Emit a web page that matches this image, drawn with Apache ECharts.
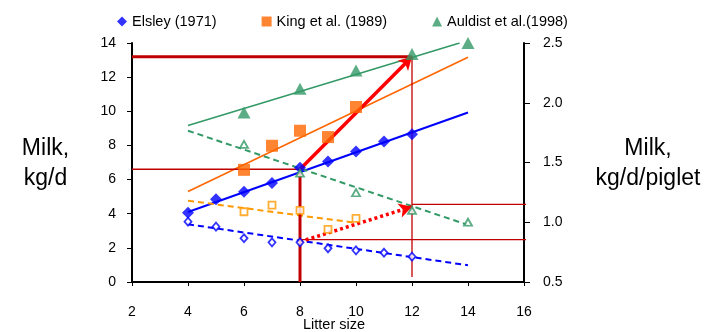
<!DOCTYPE html>
<html>
<head>
<meta charset="utf-8">
<script src="https://cdn.jsdelivr.net/npm/echarts@6/dist/echarts.min.js"></script>
<style>html,body{margin:0;padding:0;background:#fff}#c{width:718px;height:332px}</style>
</head>
<body>
<div id="c"></div>
<script>
// ---- data ----
var xTicks = [2, 4, 6, 8, 10, 12, 14, 16];
var leftTicks = [0, 2, 4, 6, 8, 10, 12, 14];
var rightTicks = ['0.5', '1.0', '1.5', '2.0', '2.5'];

// Milk, kg/d (left axis)
var elsleyX = [4, 5, 6, 7, 8, 9, 10, 11, 12];
var elsleyMilk = [4.05, 4.85, 5.28, 5.8, 6.69, 7.06, 7.64, 8.23, 8.66];
var kingX = [6, 7, 8, 9, 10];
var kingMilk = [6.57, 7.98, 8.86, 8.49, 10.25];
var auldistX = [6, 8, 10, 12, 14];
var auldistMilk = [9.93, 11.32, 12.39, 13.36, 14.0];

// Milk, kg/d/piglet (right axis)
var elsleyPiglet = [1.005, 0.963, 0.866, 0.832, 0.832, 0.782, 0.765, 0.745, 0.712];
var kingPiglet = [1.088, 1.144, 1.10, 0.94, 1.033];
var auldistPiglet = [1.652, 1.41, 1.247, 1.10, 1.0];

// trend lines [x, y]
var elsleyFit = [[4, 4.1], [14, 9.93]];
var kingFit = [[4, 5.3], [14, 13.16]];
var auldistFit = [[4, 9.17], [13.7, 14.0]];
var elsleyPigletFit = [[4, 0.983], [14, 0.64]];
var kingPigletFit = [[4, 1.18], [10, 0.995]];
var auldistPigletFit = [[4, 1.766], [14, 0.977]];

// annotations
var hiLevel = [[2, 13.2], [12, 13.2]];
var loLevel = [[2, 6.6], [8, 6.6]];
var vert8 = [[8, 0], [8, 6.6]];
var vert12 = [[12, 13.2], [12, 0.3]];
var arrowMilk = [[8, 6.6], [12, 13.2]];
var arrowPiglet = [[8, 0.837], [12, 1.13]];
var rightHi = [[12, 1.15], [16.22, 1.15]];
var rightLo = [[8, 0.855], [16.3, 0.855]];

function zip(xs, ys) { return xs.map(function (x, i) { return [x, ys[i]]; }); }

var BLUE = '#0000FF', ORANGE = '#FF6600', LORANGE = '#FF9900', GREEN = '#339966',
    RED = '#FF0000', DRED = '#C00000';
var FONT = 'Liberation Sans, Arial, sans-serif';

function fit(data, color, yIdx, dashed, width) {
  return {
    type: 'line', data: data, yAxisIndex: yIdx, symbol: 'none', silent: true, z: 2,
    lineStyle: { color: color, width: width || 1.6, type: dashed ? [6, 4] : 'solid' }
  };
}
function plain(data, color, yIdx, width) {
  return {
    type: 'line', data: data, yAxisIndex: yIdx, symbol: 'none', silent: true, clip: false, z: 4,
    lineStyle: { color: color, width: width, type: 'solid' }
  };
}
function arrow(seg, yIdx, type, width) {
  return {
    type: 'line', data: [], yAxisIndex: yIdx, symbol: 'none', silent: true, z: 6,
    markLine: {
      silent: true, symbol: ['none', 'arrow'], symbolSize: [11, 13],
      label: { show: false },
      lineStyle: { color: RED, width: width, type: type, cap: 'butt' },
      emphasis: { disabled: true },
      data: [[{ coord: seg[0] }, { coord: seg[1] }]]
    }
  };
}

var chart = echarts.init(document.getElementById('c'));
chart.setOption({
  animation: false,
  backgroundColor: '#fff',
  textStyle: { fontFamily: FONT },
  grid: { left: 132, right: 194, top: 43, bottom: 50, outerBoundsMode: 'none', containLabel: false },
  legend: {
    left: 112, top: 9, itemGap: 45, itemWidth: 10, itemHeight: 10,
    textStyle: { fontSize: 14.5, color: '#000', fontFamily: FONT },
    data: [
      { name: 'Elsley (1971)', icon: 'diamond' },
      { name: 'King et al. (1989)', icon: 'rect' },
      { name: 'Auldist et al.(1998)', icon: 'triangle' }
    ]
  },
  xAxis: {
    type: 'value', min: xTicks[0], max: xTicks[xTicks.length - 1], interval: 2,
    axisLine: { lineStyle: { color: '#000', width: 2 } },
    axisTick: { length: 4, lineStyle: { color: '#000', width: 1 } },
    axisLabel: { fontSize: 14, color: '#000', margin: 23 },
    splitLine: { show: false }
  },
  yAxis: [{
    type: 'value', min: leftTicks[0], max: leftTicks[leftTicks.length - 1], interval: 2,
    axisLine: { show: true, lineStyle: { color: '#000', width: 2 } },
    axisTick: { show: true, length: 5, lineStyle: { color: '#000', width: 1 } },
    axisLabel: { fontSize: 14, color: '#000', margin: 16 },
    splitLine: { show: false }
  }, {
    type: 'value', position: 'right', min: 0.5, max: 2.5, interval: 0.5,
    axisLine: { show: true, lineStyle: { color: '#000', width: 2 } },
    axisTick: { show: true, length: 6, lineStyle: { color: '#000', width: 1 } },
    axisLabel: { fontSize: 14, color: '#000', margin: 19,
      formatter: function (v) { return rightTicks[Math.round((v - 0.5) / 0.5)]; } },
    splitLine: { show: false }
  }],
  graphic: [
    { type: 'text', x: 45.5, y: 164, style: { text: 'Milk,\nkg/d', font: '23px ' + FONT,
      fill: '#000', align: 'center', verticalAlign: 'middle', lineHeight: 30 } },
    { type: 'text', x: 648, y: 164, style: { text: 'Milk,\nkg/d/piglet', font: '23px ' + FONT,
      fill: '#000', align: 'center', verticalAlign: 'middle', lineHeight: 30 } },
    { type: 'text', x: 334, y: 325, style: { text: 'Litter size', font: '14.5px ' + FONT,
      fill: '#000', align: 'center', verticalAlign: 'middle' } }
  ],
  series: [
    fit(elsleyFit, BLUE, 0, false, 2),
    fit(kingFit, ORANGE, 0, false, 1.6),
    fit(auldistFit, GREEN, 0, false, 1.6),
    fit(elsleyPigletFit, BLUE, 1, true, 2),
    fit(kingPigletFit, LORANGE, 1, true, 2),
    fit(auldistPigletFit, GREEN, 1, true, 2),
    {
      name: 'Elsley (1971)', type: 'scatter', yAxisIndex: 0, data: zip(elsleyX, elsleyMilk),
      symbol: 'diamond', symbolSize: 12, itemStyle: { color: BLUE }, z: 5
    },
    {
      name: 'King et al. (1989)', type: 'scatter', yAxisIndex: 0, data: zip(kingX, kingMilk),
      symbol: 'rect', symbolSize: 12, itemStyle: { color: ORANGE }, z: 5
    },
    {
      name: 'Auldist et al.(1998)', type: 'scatter', yAxisIndex: 0, data: zip(auldistX, auldistMilk),
      symbol: 'triangle', symbolSize: [13, 12], itemStyle: { color: GREEN }, z: 5
    },
    {
      type: 'scatter', yAxisIndex: 1, data: zip(elsleyX, elsleyPiglet),
      symbol: 'diamond', symbolSize: [7, 8], itemStyle: { color: '#fff', borderColor: BLUE, borderWidth: 1.8 }, z: 5
    },
    {
      type: 'scatter', yAxisIndex: 1, data: zip(kingX, kingPiglet),
      symbol: 'rect', symbolSize: 7, itemStyle: { color: '#fff', borderColor: LORANGE, borderWidth: 1.8 }, z: 5
    },
    {
      type: 'scatter', yAxisIndex: 1, data: zip(auldistX, auldistPiglet),
      symbol: 'triangle', symbolSize: [8, 7], itemStyle: { color: '#fff', borderColor: GREEN, borderWidth: 1.8 }, z: 5
    },
    plain(hiLevel, DRED, 0, 3),
    plain(loLevel, DRED, 0, 1.5),
    plain(vert8, DRED, 0, 3),
    plain(vert12, DRED, 0, 1.3),
    plain(rightHi, DRED, 1, 1.3),
    plain(rightLo, DRED, 1, 1.3),
    arrow(arrowMilk, 0, 'solid', 3.5),
    arrow(arrowPiglet, 1, [3, 3], 3.5)
  ]
});
</script>
</body>
</html>
